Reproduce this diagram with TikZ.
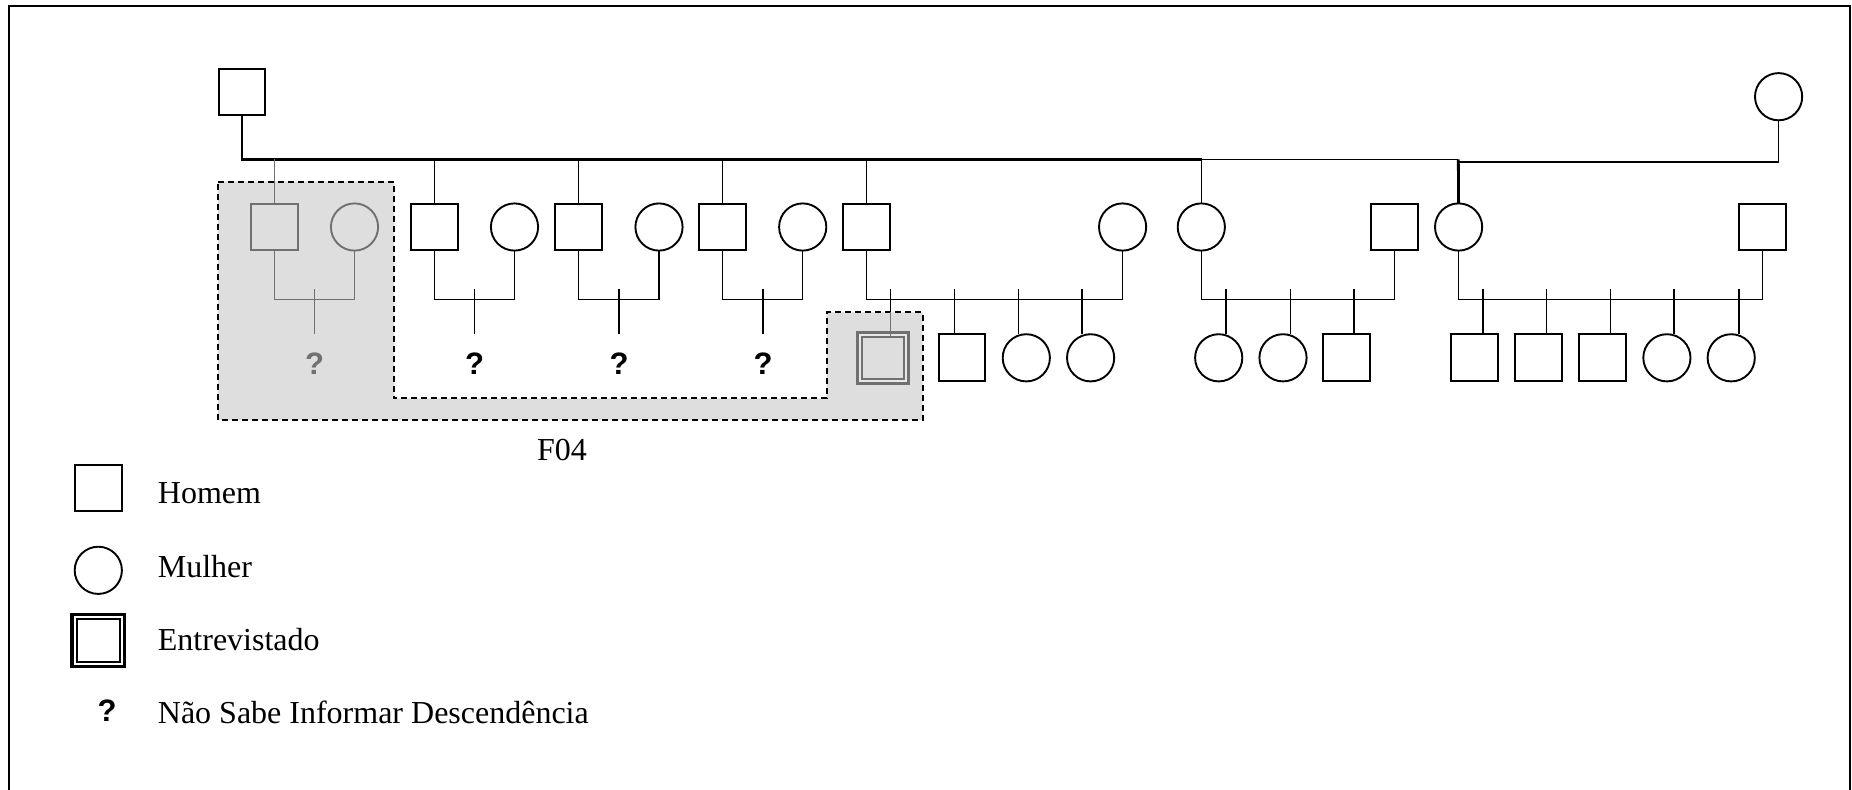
\documentclass[tikz,border=0pt]{standalone}
\usepackage{fontspec}
\setmainfont{Liberation Serif}
\newfontfamily\qfont{Liberation Sans}
\definecolor{pg}{HTML}{707070}
\definecolor{rg}{HTML}{DEDEDE}
\definecolor{rg2}{HTML}{E8E8E8}
\begin{document}
\begin{tikzpicture}[x=0.5pt,y=-0.5pt,
  male/.style={draw, rectangle, minimum size=23.4pt, inner sep=0pt, outer sep=0pt, line width=0.95pt},
  female/.style={draw, circle, minimum size=23.6pt, inner sep=0pt, outer sep=0pt, line width=0.95pt},
  greyish/.style={draw=pg},
  thinln/.style={line width=0.75pt},
  thickln/.style={line width=1.4pt},
  qm/.style={font=\qfont\bfseries\fontsize{15.5}{18}\selectfont, anchor=base, inner sep=0pt},
  lbl/.style={font=\fontsize{16}{19}\selectfont, anchor=base west, inner sep=0pt},
  region/.style={fill=rg, draw=black, line width=1pt, dash pattern=on 3pt off 2pt}]
\useasboundingbox (0,0) rectangle (1852,789);
% frame
\draw[line width=1pt] (8.5,795) -- (8.5,6) -- (1849.5,6) -- (1849.5,795);
% highlighted region
\draw[region] (218,181.5) -- (394,181.5) -- (394,398.3) -- (826.7,398.3) -- (826.7,312.3)
  -- (922.5,312.3) -- (922.5,420) -- (218,420) -- cycle;
% generation I
\node[male] (T) at (242,92) {};
\node[female] (W) at (1778.6,96.7) {};
% generation II
\node[male,greyish] (A) at (274.5,227) {};
\node[female,greyish] (Aw) at (354.5,227) {};
\node[male] (B) at (434.6,227) {};
\node[female] (Bw) at (514.5,227) {};
\node[male] (C) at (578.6,227) {};
\node[female] (Cw) at (659,227) {};
\node[male] (D) at (722.6,227) {};
\node[female] (Dw) at (802.7,227) {};
\node[male] (E) at (866.6,227) {};
\node[female] (Ew) at (1122.6,227) {};
\node[female] (F) at (1201.3,227) {};
\node[male] (Fh) at (1394.6,227) {};
\node[female] (G) at (1458.6,227) {};
\node[male] (Gh) at (1762.7,227) {};
% generation III
\node[draw=pg, fill=rg2, rectangle, minimum size=25.5pt, inner sep=0pt, line width=1.5pt] (Ei) at (882.7,357.5) {};
\node[draw=pg, fill=rg, rectangle, minimum size=21pt, inner sep=0pt, line width=1pt] (Eii) at (882.7,357.5) {};
\node[male] (E1) at (962,357.8) {};
\node[female] (E2) at (1026.3,357.8) {};
\node[female] (E3) at (1090.6,357.8) {};
\node[female] (F1) at (1218.7,357.8) {};
\node[female] (F2) at (1283,357.8) {};
\node[male] (F3) at (1346.6,357.8) {};
\node[male] (G1) at (1474.4,357.8) {};
\node[male] (G2) at (1538.4,357.8) {};
\node[male] (G3) at (1602.8,357.8) {};
\node[female] (G4) at (1666.9,357.8) {};
\node[female] (G5) at (1731.2,357.8) {};
% question marks
\node[qm, text=pg] (qA) at (314.7,374) {?};
\node[qm] (qB) at (474.5,374) {?};
\node[qm] (qC) at (619,374) {?};
\node[qm] (qD) at (763,374) {?};
% levels
\coordinate (ml) at (0,159.3);
\coordinate (cl) at (0,299.3);
% main marriage line
\draw[thickln] (T.south) -- (T.south |- ml) -- (1201.7,159.3);
\draw[thinln] (1201.7,159.3) -- (1458.3,159.3);
\draw[thickln] (1458.3,159.3) -- (G.north);
\draw[thinln] (1458.3,162) -- (W.south |- 0,162) -- (W.south);
% drops to generation II
\draw[thinln,pg] (A.north |- ml) -- (A.north);
\foreach \n in {B,C,D,E,F}{\draw[thinln] (\n.north |- ml) -- (\n.north);}
% couple lines
\draw[thinln,pg] (A.south) -- (A.south |- cl) -- (Aw.south |- cl) -- (Aw.south);
\foreach \h/\w in {B/Bw,C/Cw,D/Dw,E/Ew,F/Fh,G/Gh}{
  \draw[thinln] (\h.south) -- (\h.south |- cl) -- (\w.south |- cl) -- (\w.south);}
% ticks toward unknown descent
\draw[thinln,pg] (314.7,289.3) -- (314.7,334);
\foreach \x in {474.5,619,763}{\draw[thinln] (\x,289.3) -- (\x,334);}
% drops to generation III
\draw[thinln] (890.3,289.3) -- (890.3,312.3);
\draw[thinln,pg] (890.3,312.3) -- (890.3,289.3 |- Eii.north);
\foreach \x/\k in {954.6/E1,1018.4/E2,1082.1/E3,1226/F1,1290.4/F2,1354.2/F3,
  1482.9/G1,1546.6/G2,1610.4/G3,1674.1/G4,1739.1/G5}{
  \draw[thinln] (\x,289.3) -- (\x,289.3 |- \k.north);}
% label
\node[font=\fontsize{16}{19}\selectfont, anchor=base, inner sep=0pt] (F04) at (562,460) {F04};
% legend
\node[male] (Lm) at (98.3,488) {};
\node[female] (Lf) at (98.3,570.3) {};
\node[draw, rectangle, minimum size=26.3pt, inner sep=0pt, line width=1.6pt] (Le) at (98.3,640.5) {};
\node[draw, rectangle, minimum size=21.4pt, inner sep=0pt, line width=1pt] (Le2) at (98.3,640.5) {};
\node[qm] (Lq) at (107,721.7) {?};
\node[lbl] (tm) at (157.5,503.3) {Homem};
\node[lbl] (tf) at (157.5,577.3) {Mulher};
\node[lbl] (te) at (157.5,650) {Entrevistado};
\node[lbl] (tq) at (157.5,723.3) {Não Sabe Informar Descendência};
\end{tikzpicture}
\end{document}
